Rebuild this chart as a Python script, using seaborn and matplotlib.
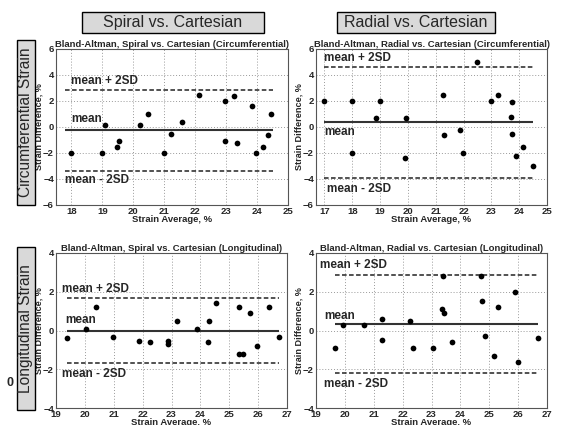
import matplotlib
matplotlib.use("Agg")
import matplotlib.pyplot as plt
from matplotlib.patches import Rectangle
import seaborn as sns
import pandas as pd
import numpy as np

sns.set_style("white")
plt.rcParams['font.family'] = ['Liberation Sans', 'DejaVu Sans']

# ---- data: Spiral vs Cartesian, circumferential
sc_avg = [18.0, 19.0, 19.1, 19.47, 19.53, 20.2, 20.48, 21.0, 21.23, 21.57,
          22.12, 22.96, 22.96, 23.26, 23.35, 23.85, 23.95, 24.2, 24.34, 24.46]
sc_diff = [-2.0, -2.0, 0.15, -1.55, -1.05, 0.15, 1.0, -2.0, -0.55, 0.35,
           2.5, 2.0, -1.05, 2.4, -1.25, 1.6, -2.0, -1.5, -0.65, 1.0]
# Radial vs Cartesian, circumferential
rc_avg = [17.0, 18.0, 18.0, 18.86, 19.0, 19.88, 19.95, 21.25, 21.3, 21.88,
          21.98, 22.5, 23.0, 23.25, 23.75, 23.7, 23.75, 23.9, 24.15, 24.5]
rc_diff = [2.0, 2.0, -2.0, 0.7, 2.0, -2.4, 0.7, 2.5, -0.65, -0.2,
           -2.0, 5.0, 2.0, 2.5, 1.9, 0.8, -0.5, -2.2, -1.5, -3.0]
# Spiral vs Cartesian, longitudinal
sl_avg = [19.38, 20.05, 20.4, 20.96, 21.86, 22.24, 22.88, 22.88, 23.19, 23.89,
          24.26, 24.3, 24.55, 25.35, 25.35, 25.47, 25.72, 25.96, 26.37, 26.74]
sl_diff = [-0.4, 0.1, 1.2, -0.33, -0.52, -0.6, -0.52, -0.7, 0.5, 0.1,
           -0.6, 0.5, 1.4, 1.2, -1.2, -1.2, 0.9, -0.82, 1.2, -0.33]
# Radial vs Cartesian, longitudinal
rl_avg = [19.66, 19.95, 20.66, 21.27, 21.3, 22.26, 22.37, 23.06, 23.35, 23.4,
          23.45, 23.72, 24.72, 24.75, 24.85, 25.16, 25.3, 25.9, 26.0, 26.7]
rl_diff = [-0.9, 0.3, 0.3, -0.5, 0.6, 0.5, -0.9, -0.9, 1.1, 2.8,
           0.9, -0.6, 2.8, 1.5, -0.3, -1.3, 1.2, 2.0, -1.6, -0.4]

# mean and 2SD limits, line extents
means = [-0.25, 0.35, 0.0, 0.34]
two_sd = [3.1, 4.3, 1.68, 2.54]
line_x0 = [17.78, 17.0, 19.38, 19.66]
line_x1 = [24.5, 24.5, 26.74, 26.7]

titles = ["Bland-Altman, Spiral vs. Cartesian (Circumferential)",
          "Bland-Altman, Radial vs. Cartesian (Circumferential)",
          "Bland-Altman, Spiral vs. Cartesian (Longitudinal)",
          "Bland-Altman, Radial vs. Cartesian (Longitudinal)"]
xlims = [(17.5, 25), (16.7, 25), (19, 27), (19, 27)]
ylims = [(-6, 6), (-6, 6), (-4, 4), (-4, 4)]
xticks = [list(range(18, 26)), list(range(17, 26)), list(range(19, 28)), list(range(19, 28))]
yticks = [[-6, -4, -2, 0, 2, 4, 6], [-6, -4, -2, 0, 2, 4, 6],
          [-4, -2, 0, 2, 4], [-4, -2, 0, 2, 4]]
# label positions (x, y) in data coords for "mean + 2SD", "mean", "mean - 2SD"
lab_x = [(17.98, 17.98, 17.78), (17.0, 17.0, 17.1), (19.2, 19.33, 19.2), (19.15, 19.29, 19.29)]
lab_y = [(3.5, 0.6, -4.07), (5.3, -0.4, -4.8), (2.14, 0.55, -2.24), (3.4, 0.76, -2.76)]

col_headers = ["Spiral vs. Cartesian", "Radial vs. Cartesian"]
row_headers = ["Circumferential Strain", "Longitudinal Strain"]

W, H = 562, 425
fig = plt.figure(figsize=(W / 100, H / 100), dpi=100)

# axes boxes in pixels: left, top, right, bottom
boxes = [(56, 49, 288, 205), (316, 49, 547, 205), (56, 253, 287, 408), (316, 253, 547, 408)]
datas = [(sc_avg, sc_diff), (rc_avg, rc_diff), (sl_avg, sl_diff), (rl_avg, rl_diff)]

for i in range(4):
    l, t, r, b = boxes[i]
    ax = fig.add_axes([l / W, 1 - b / H, (r - l) / W, (b - t) / H])
    df = pd.DataFrame({"avg": datas[i][0], "diff": datas[i][1]})
    ax.set_xlim(*xlims[i])
    ax.set_ylim(*ylims[i])
    ax.set_xticks(xticks[i])
    ax.set_yticks(yticks[i])
    ax.grid(True, color="#9a9a9a", linestyle=(0, (1, 2)), linewidth=0.7)
    m, s = means[i], two_sd[i]
    ax.hlines(m, line_x0[i], line_x1[i], colors="#333333", linewidth=1.5, zorder=2)
    ax.hlines([m + s, m - s], line_x0[i], line_x1[i], colors="#222222",
              linewidth=1.1, linestyles=(0, (3, 1.6)), zorder=2)
    sns.scatterplot(data=df, x="avg", y="diff", ax=ax, color="black", s=17,
                    edgecolor="black", linewidth=0, zorder=3)
    texts = ["mean + 2SD", "mean", "mean - 2SD"]
    for k in range(3):
        ax.text(lab_x[i][k], lab_y[i][k], texts[k], fontsize=8.5, fontweight="bold",
                ha="left", va="center", zorder=4)
    ax.set_title(titles[i], fontsize=6.8, fontweight="bold", pad=1.5)
    ax.set_xlabel("Strain Average, %", fontsize=6.8, fontweight="bold", labelpad=-1)
    ax.set_ylabel("Strain Difference, %", fontsize=6.6, fontweight="bold", labelpad=0)
    ax.tick_params(axis="both", labelsize=6.8, length=0, pad=1.5)
    for lab in ax.get_xticklabels() + ax.get_yticklabels():
        lab.set_fontweight("bold")
    for sp in ax.spines.values():
        sp.set_color("#555555")
        sp.set_linewidth(0.8)

# column header boxes
col_boxes = [(82, 12, 264, 33), (337, 12, 495, 33)]
for (x0, y0, x1, y1), txt in zip(col_boxes, col_headers):
    fig.add_artist(Rectangle((x0 / W, 1 - y1 / H), (x1 - x0) / W, (y1 - y0) / H,
                             transform=fig.transFigure, facecolor="#d9d9d9",
                             edgecolor="black", linewidth=1.0))
    fig.text((x0 + x1) / 2 / W, 1 - (y0 + y1) / 2 / H, txt, fontsize=11.5,
             ha="center", va="center")

# row header boxes
row_boxes = [(17, 40, 35, 205), (17, 247, 35, 410)]
for (x0, y0, x1, y1), txt in zip(row_boxes, row_headers):
    fig.add_artist(Rectangle((x0 / W, 1 - y1 / H), (x1 - x0) / W, (y1 - y0) / H,
                             transform=fig.transFigure, facecolor="#d9d9d9",
                             edgecolor="black", linewidth=1.0))
    fig.text((x0 + x1) / 2 / W, 1 - (y0 + y1) / 2 / H, txt, fontsize=11.2,
             ha="center", va="center", rotation=90)

fig.text(10 / W, 1 - 383 / H, "0", fontsize=9, fontweight="bold", ha="center", va="center")

fig.savefig("out.png", dpi=100)
